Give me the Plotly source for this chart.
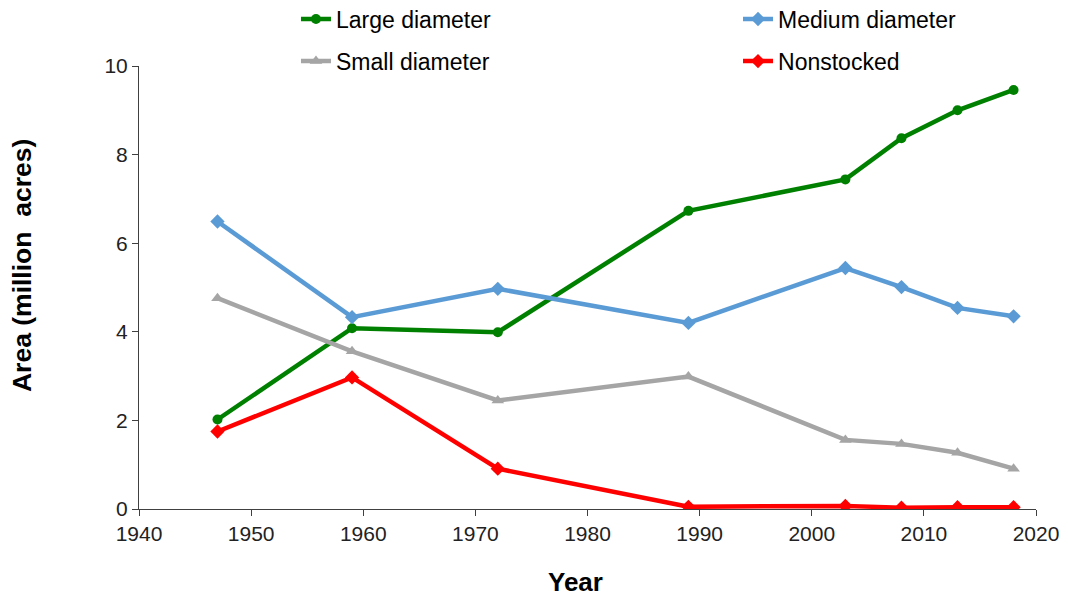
import plotly.graph_objects as go

years = [1947, 1959, 1972, 1989, 2003, 2008, 2013, 2018]
large = [2.02, 4.08, 3.99, 6.73, 7.44, 8.37, 9.00, 9.46]
medium = [6.49, 4.33, 4.97, 4.20, 5.44, 5.01, 4.54, 4.35]
small = [4.76, 3.56, 2.45, 2.99, 1.56, 1.47, 1.27, 0.91]
nonstocked = [1.75, 2.97, 0.91, 0.05, 0.07, 0.03, 0.04, 0.04]

x_ticks = [1940, 1950, 1960, 1970, 1980, 1990, 2000, 2010, 2020]
y_ticks = [0, 2, 4, 6, 8, 10]

x_title = "Year"
y_title = "Area (million  acres)"

series = [
    ("Large diameter", large, "#008000", "circle", 10, "legend"),
    ("Medium diameter", medium, "#5B9BD5", "diamond", 11, "legend2"),
    ("Small diameter", small, "#A5A5A5", "triangle-up", 11, "legend3"),
    ("Nonstocked", nonstocked, "#FF0000", "diamond", 11, "legend4"),
]

fig = go.Figure()
for name, vals, color, sym, size, leg in series:
    fig.add_trace(go.Scatter(
        x=years, y=vals, name=name, mode="lines+markers",
        line=dict(color=color, width=4.5),
        marker=dict(symbol=sym, size=size, color=color),
        legend=leg, showlegend=True,
    ))

font = "Liberation Sans, Arial, sans-serif"
axis_color = "#404040"
leg_common = dict(orientation="h",
                  font=dict(family=font, size=23, color="#000000"),
                  bgcolor="rgba(0,0,0,0)", borderwidth=0,
                  xanchor="left", yanchor="middle")

fig.update_layout(
    width=1060, height=590,
    margin=dict(l=131, r=32, t=58, b=89, autoexpand=False),
    paper_bgcolor="white", plot_bgcolor="white",
    font=dict(family=font, color="#000000"),
    showlegend=True,
    legend=dict(**leg_common, x=0.175, y=1.106),
    legend2=dict(**leg_common, x=0.6678, y=1.106),
    legend3=dict(**leg_common, x=0.175, y=1.011),
    legend4=dict(**leg_common, x=0.6678, y=1.011),
    xaxis=dict(
        range=[1940, 2020], tickvals=x_ticks, showgrid=False, zeroline=False,
        showline=True, linecolor=axis_color, linewidth=1,
        ticks="outside", ticklen=6, tickcolor=axis_color,
        tickfont=dict(family=font, size=21, color="#222222"),
    ),
    yaxis=dict(
        range=[0, 10], tickvals=y_ticks, showgrid=False, zeroline=False,
        showline=True, linecolor=axis_color, linewidth=1,
        ticks="outside", ticklen=6, tickcolor=axis_color,
        tickfont=dict(family=font, size=21, color="#222222"),
    ),
    annotations=[
        dict(text="<b>" + x_title + "</b>", xref="paper", yref="paper",
             x=0.4866, y=-0.165, xanchor="center", yanchor="middle", showarrow=False,
             font=dict(family=font, size=26, color="#000000")),
        dict(text="<b>" + y_title + "</b>", xref="paper", yref="paper",
             x=-0.1304, y=0.5485, xanchor="center", yanchor="middle", showarrow=False,
             textangle=-90, font=dict(family=font, size=26.5, color="#000000")),
    ],
)

fig.write_html("out.html")
